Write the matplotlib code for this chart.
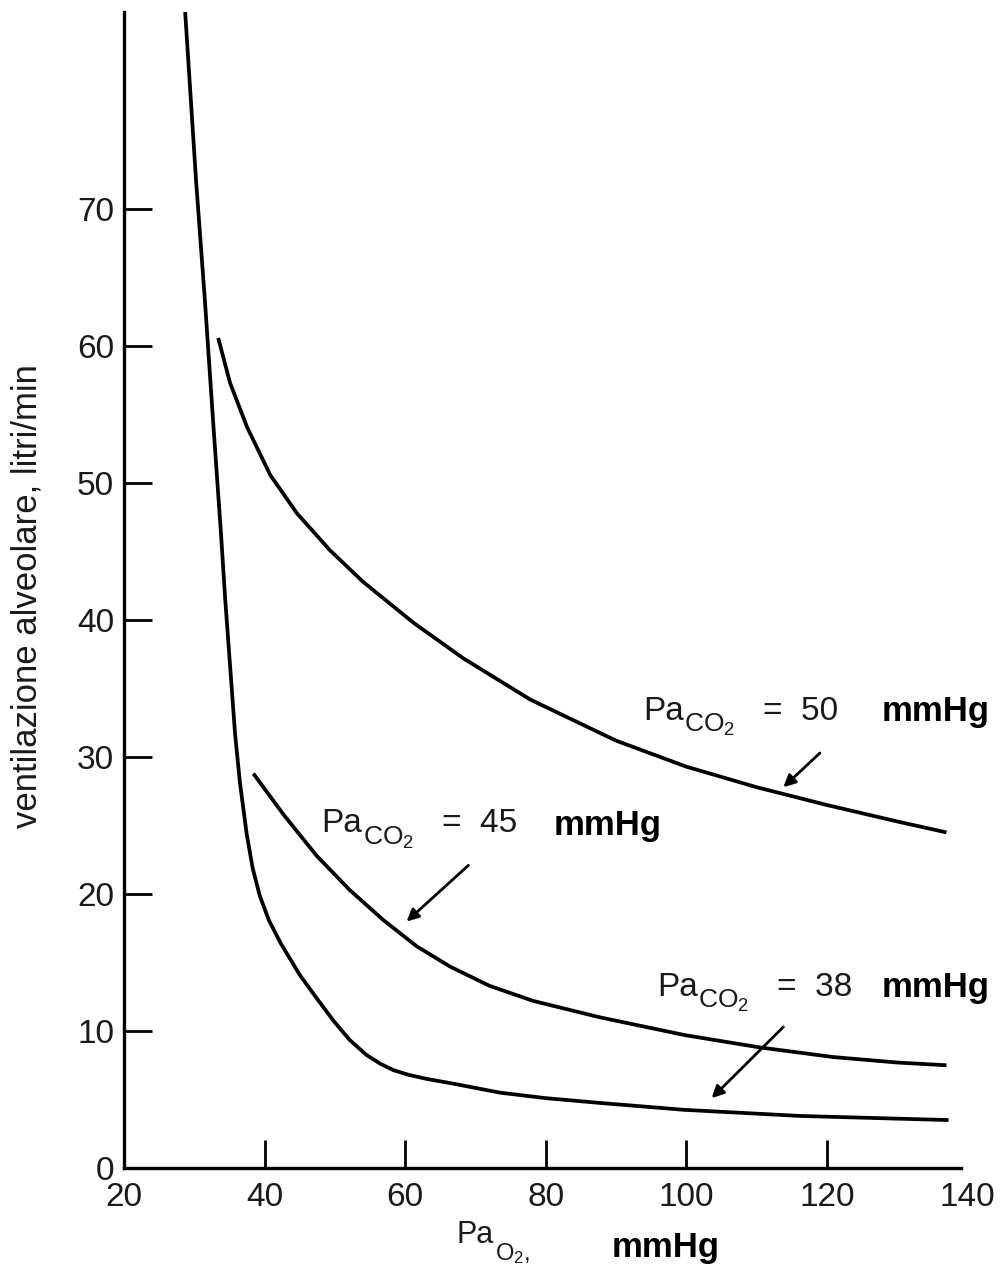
import matplotlib.pyplot as plt
from matplotlib import font_manager

plt.rcParams['font.family'] = ['Liberation Sans', 'DejaVu Sans']
plt.rcParams['mathtext.fontset'] = 'custom'
plt.rcParams['mathtext.rm'] = 'Liberation Sans'
plt.rcParams['mathtext.it'] = 'Liberation Sans:italic'
plt.rcParams['mathtext.bf'] = 'Liberation Sans:bold'

# PaO2 (mmHg) -> ventilazione alveolare (litri/min), one curve per PaCO2
x38 = [28.7, 30.25, 31.5, 32.8, 33.8, 34.4, 35.1, 35.8, 36.5, 37.45, 38.3,
       39.3, 40.6, 42.3, 45.0, 47.4, 49.8, 52.1, 54.5, 56.5, 58.3, 60.5,
       63.1, 66.4, 73.5, 80.0, 87.7, 99.6, 116.2, 137.3]
y38 = [84.4, 72.1, 63.4, 53.6, 46.3, 41.5, 36.6, 31.7, 28.1, 24.4, 21.9,
       19.9, 18.1, 16.4, 14.1, 12.4, 10.75, 9.35, 8.25, 7.6, 7.15, 6.8,
       6.5, 6.2, 5.5, 5.1, 4.75, 4.25, 3.8, 3.5]

x45 = [38.4, 42.7, 47.4, 52.1, 56.9, 61.6, 66.4, 72.0, 78.2, 87.7, 99.8,
       110.5, 120.9, 130.0, 137.0]
y45 = [28.8, 25.8, 22.8, 20.3, 18.1, 16.2, 14.7, 13.3, 12.2, 11.0, 9.7,
       8.8, 8.1, 7.7, 7.5]

x50 = [33.4, 35.1, 37.5, 40.8, 44.6, 49.3, 54.0, 61.2, 68.3, 77.8, 90.0,
       100.0, 110.0, 120.0, 130.0, 137.0]
y50 = [60.6, 57.3, 54.1, 50.6, 47.8, 45.1, 42.8, 39.8, 37.2, 34.2, 31.2,
       29.3, 27.8, 26.5, 25.3, 24.5]

xticks = [20, 40, 60, 80, 100, 120, 140]
yticks = [0, 10, 20, 30, 40, 50, 60, 70]

txt = '#1a1a1a'

fig = plt.figure(figsize=(10.04, 12.74), dpi=100)
ax = fig.add_axes([0.1235, 0.0832, 0.8402, 0.9074])

for xs, ys in [(x38, y38), (x45, y45), (x50, y50)]:
    ax.plot(xs, ys, color='black', lw=2.7, solid_capstyle='butt',
            solid_joinstyle='round')

ax.set_xlim(20, 140)
ax.set_ylim(0, 84.4)
ax.spines['top'].set_visible(False)
ax.spines['right'].set_visible(False)
ax.spines['left'].set_linewidth(2.4)
ax.spines['bottom'].set_linewidth(2.4)
ax.spines['bottom'].set_bounds(20, 139)

ax.set_xticks(xticks)
ax.set_yticks(yticks)
ax.tick_params(direction='in', length=20, width=2, labelsize=24,
               labelcolor=txt)
ax.tick_params(axis='x', pad=10)
ax.tick_params(axis='y', pad=7)
xt = ax.xaxis.get_major_ticks()
xt[0].tick1line.set_visible(False)
xt[-1].tick1line.set_visible(False)
ax.yaxis.get_major_ticks()[0].tick1line.set_visible(False)

have = {f.name for f in font_manager.fontManager.ttflist}
if 'Liberation Sans Narrow' in have:
    ax.set_ylabel('ventilazione alveolare, litri/min', fontsize=30,
                  family='Liberation Sans Narrow', color=txt)
else:
    ax.set_ylabel('ventilazione alveolare, litri/min', fontsize=25, color=txt)
ax.yaxis.set_label_coords(-0.095, 0.495)


def co2_label(x, y, value):
    ax.annotate('Pa', (x, y), fontsize=24, color=txt)
    ax.annotate('CO$_2$', (x, y), xytext=(29.5, -8.6),
                textcoords='offset points', fontsize=19, color=txt)
    ax.annotate('=  ' + value, (x, y), xytext=(86.5, 0),
                textcoords='offset points', fontsize=24, color=txt)


co2_label(93.8, 32.7, '50')
ax.text(127.8, 32.6, 'mmHg', fontsize=25, fontweight='bold')
co2_label(48.1, 24.5, '45')
ax.text(81.1, 24.3, 'mmHg', fontsize=25, fontweight='bold')
co2_label(95.8, 12.55, '38')
ax.text(127.8, 12.5, 'mmHg', fontsize=25, fontweight='bold')

arrow = dict(arrowstyle='-|>', color='black', lw=2, mutation_scale=18,
             shrinkA=0, shrinkB=0)
ax.annotate('', xy=(113.8, 27.8), xytext=(119.0, 30.3), arrowprops=arrow)
ax.annotate('', xy=(60.2, 18.0), xytext=(69.0, 22.1), arrowprops=arrow)
ax.annotate('', xy=(103.6, 5.1), xytext=(113.8, 10.3), arrowprops=arrow)

# x axis label
ax.annotate('Pa', (0.455, 0.0243), xycoords='figure fraction',
            fontsize=22, color=txt)
ax.annotate("O$_2$,", (0.455, 0.0243), xycoords='figure fraction',
            xytext=(27.5, -12), textcoords='offset points',
            fontsize=17, color=txt)
fig.text(0.609, 0.0133, 'mmHg', fontsize=25, fontweight='bold')

fig.savefig('out.png', dpi=100)
